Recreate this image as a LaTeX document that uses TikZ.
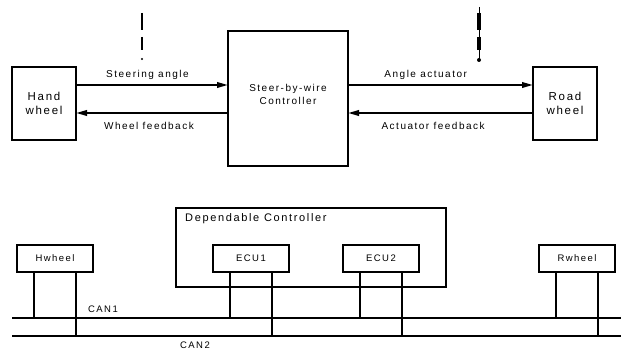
\documentclass[tikz,border=0pt]{standalone}
\usepackage{fontspec}
\setmainfont{Liberation Sans}[LetterSpace=15]
\usetikzlibrary{positioning, arrows.meta}

\begin{document}
\begin{tikzpicture}[
  x=1pt, y=-1pt,
  node distance=54pt and 54pt,
  block/.style={draw, line width=2pt, inner sep=0pt, outer sep=0pt},
  wheelbox/.style={
    block, minimum width=64pt, minimum height=73pt,
    align=center, font=\fontsize{11.5}{14}\selectfont
  },
  ctrlbox/.style={block, minimum width=120pt, minimum height=135pt},
  ecubox/.style={
    block, minimum width=76pt, minimum height=27pt,
    font=\fontsize{9.5}{11}\selectfont
  },
  groupbox/.style={block, minimum width=270pt, minimum height=79pt},
  arrow/.style={-{Triangle[length=11pt,width=5.5pt]}, line width=2pt},
  arrowlabel/.style={inner sep=0pt, font=\fontsize{10}{12}\selectfont},
  bus/.style={line width=2pt},
  buslabel/.style={inner sep=0pt, font=\fontsize{9.5}{11}\selectfont},
]
\useasboundingbox (0,0) rectangle (621,352);

% top: steer-by-wire loop
\node[wheelbox] (hw) at (44,103.5) {Hand\\wheel};
\node[ctrlbox, right=152pt of hw, yshift=5pt] (ctrl) {};
\node[wheelbox, right=185pt of ctrl, yshift=-5pt] (rw) {Road\\wheel};
\node[align=center, font=\fontsize{10}{12.5}\selectfont, yshift=4pt] (ctrltext) at (ctrl.center) {Steer-by-wire\\Controller};

\draw[arrow] ([yshift=18.5pt]hw.east) -- node[arrowlabel, pos=0.47, above=4pt] {Steering angle} ([yshift=18.5pt]hw.east -| ctrl.west);
\draw[arrow] ([yshift=-9.5pt]hw.east -| ctrl.west) -- node[arrowlabel, pos=0.52, below=8.5pt] {Wheel feedback} ([yshift=-9.5pt]hw.east);
\draw[arrow] ([yshift=18.5pt]rw.west -| ctrl.east) -- node[arrowlabel, pos=0.42, above=4pt] {Angle actuator} ([yshift=18.5pt]rw.west);
\draw[arrow] ([yshift=-9.5pt]rw.west) -- node[arrowlabel, pos=0.54, below=8.5pt] {Actuator feedback} ([yshift=-9.5pt]rw.west -| ctrl.east);

% cut marks
\coordinate (markla) at (142,13);
\coordinate (marklb) at (142,59);
\draw[line width=2pt, dash pattern=on 17pt off 7pt on 13pt off 50pt] (markla) -- (marklb);
\fill (marklb) circle (1.2pt);
\coordinate (markra) at (479,7);
\coordinate (markrb) at (479,60);
\draw[line width=1pt] (markra) -- (markrb);
\draw[line width=4pt, dash pattern=on 17pt off 7pt on 13pt off 53pt, dash phase=84pt] (markra) -- (markrb);
\fill (markrb) circle (2pt);

% bottom: CAN network
\node[groupbox] (dc) at (311,247.5) {};
\node[anchor=north west, inner sep=0pt, font=\fontsize{11}{14}\selectfont] (dctext) at ([xshift=9pt,yshift=-5.5pt]dc.north west) {Dependable Controller};
\node[ecubox] (hwb) at (55,258.5) {Hwheel};
\node[ecubox] (ecu1) at (251,258.5) {ECU1};
\node[ecubox, right=of ecu1] (ecu2) {ECU2};
\node[ecubox] (rwb) at (577,258.5) {Rwheel};

\coordinate (can1w) at (12,318);
\coordinate (can1e) at (621,318);
\coordinate (can2w) at (12,336);
\coordinate (can2e) at (621,336);
\draw[bus] (can1w) -- (can1e);
\draw[bus] (can2w) -- (can2e);
\node[buslabel, anchor=base west] (can1) at (88,313) {CAN1};
\node[buslabel, anchor=base west] (can2) at (180,348.5) {CAN2};

\draw[bus] ([xshift=-21pt]hwb.south) -- ([xshift=-21pt]hwb.south |- can1w);
\draw[bus] ([xshift=21pt]hwb.south) -- ([xshift=21pt]hwb.south |- can2w);
\draw[bus] ([xshift=-21pt]ecu1.south) -- ([xshift=-21pt]ecu1.south |- can1w);
\draw[bus] ([xshift=21pt]ecu1.south) -- ([xshift=21pt]ecu1.south |- can2w);
\draw[bus] ([xshift=-21pt]ecu2.south) -- ([xshift=-21pt]ecu2.south |- can1w);
\draw[bus] ([xshift=21pt]ecu2.south) -- ([xshift=21pt]ecu2.south |- can2w);
\draw[bus] ([xshift=-21pt]rwb.south) -- ([xshift=-21pt]rwb.south |- can1w);
\draw[bus] ([xshift=21pt]rwb.south) -- ([xshift=21pt]rwb.south |- can2w);

\end{tikzpicture}
\end{document}
